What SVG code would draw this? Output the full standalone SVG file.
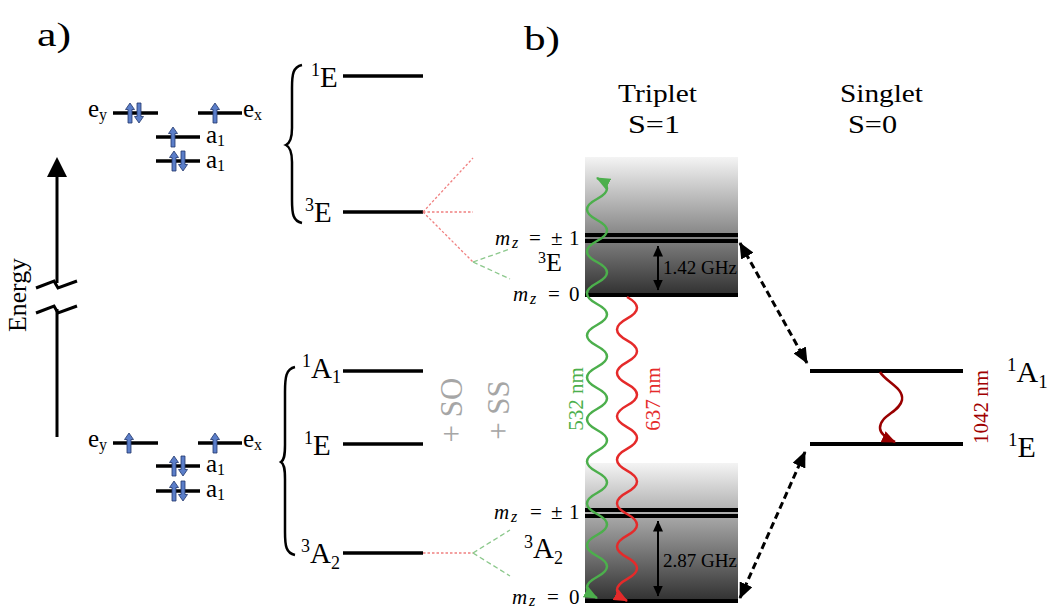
<svg xmlns="http://www.w3.org/2000/svg" width="1049" height="608" viewBox="0 0 1049 608">
<style>
text{font-family:"Liberation Serif","Times New Roman",serif;fill:#000}
.lvl{stroke:#000;stroke-width:3.5;fill:none}
.tl{stroke:#000;stroke-width:4;fill:none}
.orb{font-size:25px}
.sub{font-size:16px}
.lab{font-size:29px}
.sup{font-size:18px}
.tlab{font-size:26px}
.tsup{font-size:16px}
.slab{font-size:30px}
.sslab{font-size:19px}
.mz{font-size:21px}
.mi{font-style:italic}
.ghz{font-size:18px}
.red-dot{stroke:#f08080;stroke-width:1.3;stroke-dasharray:2.5 2;fill:none}
.grn-dash{stroke:#8cc88c;stroke-width:1.3;stroke-dasharray:5 3;fill:none}
.ar{fill:#5b7ec9;stroke:#22366a;stroke-width:0.8}
.pert{font-size:31px;fill:#a6a6a6}
.nm{font-size:21px}
.hd{font-size:26px}
</style>
<defs>
<linearGradient id="gr" x1="0" y1="0" x2="0" y2="1">
<stop offset="0" stop-color="#f4f4f4"/>
<stop offset="1" stop-color="#2e2e2e"/>
</linearGradient>
<g id="up"><polygon class="ar" points="0,-10 4.5,-3.5 2,-3.5 2,10 -2,10 -2,-3.5 -4.5,-3.5"/></g>
<g id="dn"><polygon class="ar" points="0,10 4.5,3.5 2,3.5 2,-10 -2,-10 -2,3.5 -4.5,3.5"/></g>
<marker id="mg" markerUnits="userSpaceOnUse" markerWidth="14" markerHeight="12" viewBox="0 0 14 12" refX="13" refY="6" orient="auto-start-reverse"><path d="M0,0 L14,6 L0,12 z" fill="#4caf4c"/></marker>
<marker id="mr" markerUnits="userSpaceOnUse" markerWidth="14" markerHeight="12" viewBox="0 0 14 12" refX="13" refY="6" orient="auto-start-reverse"><path d="M0,0 L14,6 L0,12 z" fill="#e52a2a"/></marker>
<marker id="md" markerUnits="userSpaceOnUse" markerWidth="14" markerHeight="12" viewBox="0 0 14 12" refX="13" refY="6" orient="auto-start-reverse"><path d="M0,0 L14,6 L0,12 z" fill="#990000"/></marker>
<marker id="mb" markerUnits="userSpaceOnUse" markerWidth="16" markerHeight="14" viewBox="0 0 16 14" refX="15" refY="7" orient="auto-start-reverse"><path d="M0,0 L16,7 L0,14 z" fill="#000"/></marker>
<marker id="mk" markerUnits="userSpaceOnUse" markerWidth="11" markerHeight="10" viewBox="0 0 11 10" refX="10.5" refY="5" orient="auto-start-reverse"><path d="M0,0 L11,5 L0,10 z" fill="#000"/></marker>
</defs>

<g id="panel-labels">
<text x="37" y="46" font-size="34" textLength="34" lengthAdjust="spacingAndGlyphs">a)</text>
<text x="524" y="50" font-size="34" textLength="36" lengthAdjust="spacingAndGlyphs">b)</text>
</g>

<g id="energy-axis">
<line x1="57" y1="175" x2="57" y2="283" stroke="#000" stroke-width="3"/>
<line x1="57" y1="309" x2="57" y2="437" stroke="#000" stroke-width="3"/>
<polygon points="57,157 47,177 67,177" fill="#000"/>
<polyline points="36,288 54,281 58,288 77,281" fill="none" stroke="#000" stroke-width="3"/>
<polyline points="36,313 54,306 58,313 77,306" fill="none" stroke="#000" stroke-width="3"/>
<text transform="translate(26,295) rotate(-90)" text-anchor="middle" font-size="25" textLength="74" lengthAdjust="spacingAndGlyphs">Energy</text>
</g>

<g id="orbitals-top">
<line class="lvl" x1="113" y1="113" x2="158" y2="113"/>
<line class="lvl" x1="198" y1="113" x2="242" y2="113"/>
<line class="lvl" x1="156" y1="137" x2="200" y2="137"/>
<line class="lvl" x1="156" y1="161" x2="200" y2="161"/>
<use href="#up" x="130" y="113"/><use href="#dn" x="139" y="113"/>
<use href="#up" x="215" y="113"/>
<use href="#up" x="173" y="137"/>
<use href="#up" x="174" y="161"/><use href="#dn" x="183" y="161"/>
<text class="orb" x="88" y="117">e<tspan class="sub" dy="3">y</tspan></text>
<text class="orb" x="243" y="117">e<tspan class="sub" dy="3">x</tspan></text>
<text class="orb" x="206" y="143">a<tspan class="sub" dy="3">1</tspan></text>
<text class="orb" x="206" y="168">a<tspan class="sub" dy="3">1</tspan></text>
</g>

<g id="orbitals-bottom">
<line class="lvl" x1="113" y1="443" x2="158" y2="443"/>
<line class="lvl" x1="198" y1="443" x2="242" y2="443"/>
<line class="lvl" x1="156" y1="466" x2="200" y2="466"/>
<line class="lvl" x1="156" y1="491" x2="200" y2="491"/>
<use href="#up" x="129" y="443"/>
<use href="#up" x="215" y="443"/>
<use href="#up" x="174" y="466"/><use href="#dn" x="183" y="466"/>
<use href="#up" x="174" y="491"/><use href="#dn" x="183" y="491"/>
<text class="orb" x="88" y="447">e<tspan class="sub" dy="3">y</tspan></text>
<text class="orb" x="243" y="447">e<tspan class="sub" dy="3">x</tspan></text>
<text class="orb" x="206" y="472">a<tspan class="sub" dy="3">1</tspan></text>
<text class="orb" x="206" y="497">a<tspan class="sub" dy="3">1</tspan></text>
</g>

<g id="brace-top">
<path d="M302,65 C293,67 292,74 292,88 L292,128 C292,139 290,143 286,145 C290,147 292,151 292,162 L292,200 C292,214 293,221 302,223" fill="none" stroke="#000" stroke-width="2.5"/>
</g>
<g id="brace-bottom">
<path d="M295,367 C286,369 285,377 285,392 L285,445 C285,456 284,460 281,462 C284,464 285,468 285,479 L285,532 C285,546 286,553 295,555" fill="none" stroke="#000" stroke-width="2.5"/>
</g>

<g id="level-1E-upper">
<line class="lvl" x1="343" y1="76" x2="423" y2="76"/>
<text class="lab" x="311" y="87"><tspan class="sup" dy="-11">1</tspan><tspan dy="11">E</tspan></text>
</g>
<g id="level-3E">
<line class="lvl" x1="343" y1="212" x2="423" y2="212"/>
<text class="lab" x="305" y="222"><tspan class="sup" dy="-11">3</tspan><tspan dy="11">E</tspan></text>
</g>
<g id="level-1A1">
<line class="lvl" x1="343" y1="371" x2="423" y2="371"/>
<text class="lab" x="302" y="378"><tspan class="sup" dy="-11">1</tspan><tspan dy="11">A</tspan><tspan class="sup" dy="5">1</tspan></text>
</g>
<g id="level-1E-lower">
<line class="lvl" x1="343" y1="444" x2="423" y2="444"/>
<text class="lab" x="304" y="455"><tspan class="sup" dy="-11">1</tspan><tspan dy="11">E</tspan></text>
</g>
<g id="level-3A2">
<line class="lvl" x1="343" y1="553" x2="423" y2="553"/>
<text class="lab" x="301" y="563"><tspan class="sup" dy="-11">3</tspan><tspan dy="11">A</tspan><tspan class="sup" dy="6">2</tspan></text>
</g>

<g id="perturbations">
<text class="pert" transform="translate(462,410) rotate(-90)" text-anchor="middle">+ SO</text>
<text class="pert" transform="translate(509,410) rotate(-90)" text-anchor="middle">+ SS</text>
</g>

<g id="splittings">
<line class="red-dot" x1="423" y1="212" x2="473" y2="158"/>
<line class="red-dot" x1="423" y1="212" x2="473" y2="212"/>
<line class="red-dot" x1="423" y1="212" x2="473" y2="262"/>
<line class="grn-dash" x1="473" y1="262" x2="510" y2="249"/>
<line class="grn-dash" x1="473" y1="262" x2="510" y2="279"/>
<line class="red-dot" x1="423" y1="553" x2="473" y2="553"/>
<line class="grn-dash" x1="473" y1="553" x2="510" y2="530"/>
<line class="grn-dash" x1="473" y1="553" x2="510" y2="576"/>
</g>

<g id="headers">
<text class="hd" x="618" y="102" textLength="79" lengthAdjust="spacingAndGlyphs">Triplet</text>
<text class="hd" x="628" y="133" textLength="52" lengthAdjust="spacingAndGlyphs">S=1</text>
<text class="hd" x="840" y="102" textLength="83" lengthAdjust="spacingAndGlyphs">Singlet</text>
<text class="hd" x="848" y="133" textLength="49" lengthAdjust="spacingAndGlyphs">S=0</text>
</g>

<g id="triplet-3E">
<rect x="585" y="157" width="153" height="140" fill="url(#gr)"/>
<line class="tl" x1="585" y1="235" x2="738" y2="235"/>
<line class="tl" x1="585" y1="241" x2="738" y2="241"/>
<line class="tl" x1="585" y1="295" x2="738" y2="295"/>
<line x1="658" y1="246" x2="658" y2="290" stroke="#000" stroke-width="2" marker-start="url(#mk)" marker-end="url(#mk)"/>
<text class="ghz" x="663" y="274" textLength="74" lengthAdjust="spacingAndGlyphs">1.42 GHz</text>
<text class="tlab" x="538" y="271"><tspan class="tsup" dy="-8">3</tspan><tspan dy="8">E</tspan></text>
<text class="mz" y="245"><tspan class="mi" x="495">m</tspan><tspan class="mi sub" x="512" dy="3">z</tspan><tspan x="529" dy="-3">=</tspan><tspan x="551">±</tspan><tspan x="569">1</tspan></text>
<text class="mz" y="301"><tspan class="mi" x="513">m</tspan><tspan class="mi sub" x="530" dy="3">z</tspan><tspan x="548" dy="-3">=</tspan><tspan x="569">0</tspan></text>
</g>

<g id="triplet-3A2">
<rect x="585" y="463" width="153" height="140" fill="url(#gr)"/>
<line class="tl" x1="585" y1="510" x2="738" y2="510"/>
<line class="tl" x1="585" y1="516" x2="738" y2="516"/>
<line class="tl" x1="585" y1="601" x2="738" y2="601"/>
<line x1="658" y1="521" x2="658" y2="596" stroke="#000" stroke-width="2" marker-start="url(#mk)" marker-end="url(#mk)"/>
<text class="ghz" x="663" y="567" textLength="74" lengthAdjust="spacingAndGlyphs">2.87 GHz</text>
<text class="lab" x="524" y="558"><tspan class="sup" dy="-10">3</tspan><tspan dy="10">A</tspan><tspan class="sup" dy="6">2</tspan></text>
<text class="mz" y="519"><tspan class="mi" x="494">m</tspan><tspan class="mi sub" x="511" dy="3">z</tspan><tspan x="530" dy="-3">=</tspan><tspan x="551">±</tspan><tspan x="569">1</tspan></text>
<text class="mz" y="604"><tspan class="mi" x="512">m</tspan><tspan class="mi sub" x="529" dy="2">z</tspan><tspan x="547" dy="-2">=</tspan><tspan x="569">0</tspan></text>
</g>

<g id="singlet-1A1">
<line class="tl" x1="810" y1="371" x2="963" y2="371"/>
<text class="slab" x="1007" y="382"><tspan class="sslab" dy="-11">1</tspan><tspan dy="11">A</tspan><tspan class="sslab" dy="6">1</tspan></text>
</g>
<g id="singlet-1E">
<line class="tl" x1="810" y1="444" x2="963" y2="444"/>
<text class="slab" x="1008" y="457"><tspan class="sslab" dy="-11">1</tspan><tspan dy="11">E</tspan></text>
</g>

<g id="connectors">
<path d="M597,598 Q577,587.5 597,577 T597,556 T597,535 T597,514 T597,493 T597,472 T597,451 T597,430 T597,409 T597,388 T597,367 T597,346 T597,325 T597,304 T597,283 T597,262 T597,241 T597,220 T597,199 T597,178" fill="none" stroke="#4caf4c" stroke-width="2.5" marker-start="url(#mg)" marker-end="url(#mg)"/>
<path d="M627,297 Q647,307.85 627,318.7 T627,340.4 T627,362.1 T627,383.8 T627,405.5 T627,427.2 T627,448.9 T627,470.6 T627,492.3 T627,514 T627,535.7 T627,557.4 T627,579.1 T627,600.8" fill="none" stroke="#e52a2a" stroke-width="2.5" marker-end="url(#mr)"/>
<path d="M880,372 C886,382 904,388 902,400 C900,412 880,415 880,428 C880,434 886,438 895,442" fill="none" stroke="#990000" stroke-width="2.5" marker-end="url(#md)"/>
<line x1="740" y1="243" x2="807" y2="363" stroke="#000" stroke-width="3" stroke-dasharray="7 4" marker-start="url(#mb)" marker-end="url(#mb)"/>
<line x1="805" y1="452" x2="740" y2="598" stroke="#000" stroke-width="3" stroke-dasharray="7 4" marker-start="url(#mb)" marker-end="url(#mb)"/>
<text class="nm" transform="translate(583,399) rotate(-90)" text-anchor="middle" style="fill:#4caf4c">532 nm</text>
<text class="nm" transform="translate(660,399) rotate(-90)" text-anchor="middle" style="fill:#e52a2a">637 nm</text>
<text class="nm" transform="translate(988,407) rotate(-90)" text-anchor="middle" style="fill:#a00000">1042 nm</text>
</g>
</svg>
